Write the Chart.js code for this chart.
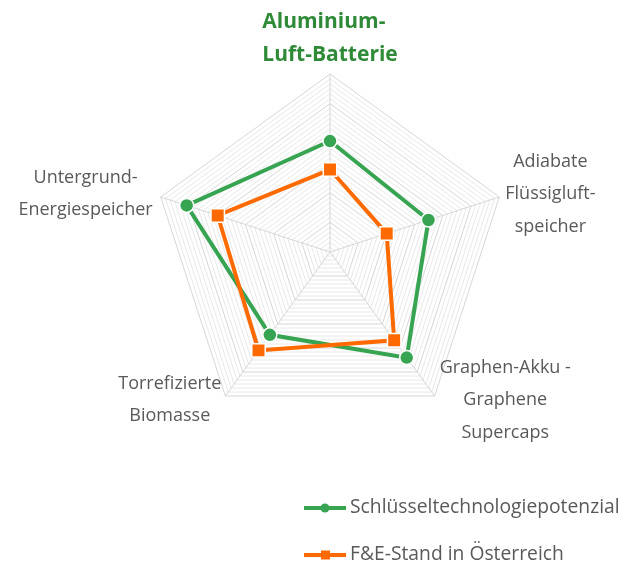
<!DOCTYPE html>
<html><head><meta charset="utf-8">
<script src="https://cdn.jsdelivr.net/npm/chart.js@4/dist/chart.umd.min.js"></script>
<style>html,body{margin:0;padding:0;background:#fff}#wrap{width:622px;height:564px}</style>
</head><body><div id="wrap"><canvas id="c" width="622" height="564"></canvas></div>
<script>
const categories = [
  ["Aluminium-", "Luft-Batterie"],
  ["Adiabate", "Flüssigluft-", "speicher"],
  ["Graphen-Akku -", "Graphene", "Supercaps"],
  ["Torrefizierte", "Biomasse"],
  ["Untergrund-", "Energiespeicher"]
];
const seriesNames = ["Schlüsseltechnologiepotenzial", "F&E-Stand in Österreich"];
const potenzial = [3.74, 3.49, 4.40, 3.45, 5.08];
const feStand = [2.78, 2.01, 3.68, 4.10, 3.98];
const scaleMax = 6;
const minorPerMajor = 6;

const GREEN = '#37a452', ORANGE = '#ff6a00', TEXT = '#595959', TITLE = '#2f8a38';
const FONT = '"Open Sans", sans-serif';

const labelPlugin = {
  id: 'labels',
  afterDraw(chart) {
    const r = chart.scales.r, ctx = chart.ctx;
    ctx.save();
    ctx.textBaseline = 'middle';
    categories.forEach((lines, i) => {
      const v = r.getPointPosition(i, r.drawingArea);
      const isTop = i === 0;
      ctx.font = (isTop ? 'bold 21px ' : '18px ') + FONT;
      ctx.fillStyle = isTop ? TITLE : TEXT;
      const lh = 32.5;
      const widths = lines.map(l => ctx.measureText(l).width);
      const bw = Math.max(...widths);
      let left, firstY;
      if (isTop) {
        left = v.x - bw / 2;
        firstY = v.y - 19 - lh * (lines.length - 1);
      } else {
        const mid = v.y + [0, -3, 4, 4, -3][i];
        firstY = mid - lh * (lines.length - 1) / 2;
        if (v.x > r.xCenter) left = v.x + [0, 6, 5][i];
        else left = v.x - [0, 0, 0, 4, 8][i] - bw;
      }
      lines.forEach((l, k) => {
        const y = firstY + k * lh;
        if (isTop) { ctx.textAlign = 'left'; ctx.fillText(l, left, y); }
        else { ctx.textAlign = 'center'; ctx.fillText(l, left + bw / 2, y); }
      });
    });
    // legend
    const items = [
      {name: seriesNames[0], color: GREEN, style: 'circle', y: 508},
      {name: seriesNames[1], color: ORANGE, style: 'rect', y: 555}
    ];
    items.forEach(it => {
      ctx.strokeStyle = it.color; ctx.lineWidth = 4; ctx.lineCap = 'butt';
      ctx.beginPath(); ctx.moveTo(304, it.y); ctx.lineTo(346, it.y); ctx.stroke();
      ctx.fillStyle = it.color;
      if (it.style === 'circle') { ctx.beginPath(); ctx.arc(325, it.y, 4.5, 0, Math.PI * 2); ctx.fill(); }
      else { ctx.fillRect(321, it.y - 4.5, 9, 9); }
      ctx.fillStyle = TEXT; ctx.font = '19.3px ' + FONT; ctx.textAlign = 'left';
      ctx.fillText(it.name, 350, it.y);
    });
    ctx.restore();
  }
};

new Chart(document.getElementById('c'), {
  type: 'radar',
  data: {
    labels: categories,
    datasets: [
      {label: seriesNames[0], data: potenzial, borderColor: GREEN, backgroundColor: GREEN,
       borderWidth: 4, fill: false, pointStyle: 'circle', pointRadius: 7, pointHoverRadius: 7,
       pointBackgroundColor: GREEN, pointBorderColor: '#fff', pointBorderWidth: 1.5, order: 1},
      {label: seriesNames[1], data: feStand, borderColor: ORANGE, backgroundColor: ORANGE,
       borderWidth: 4, fill: false, pointStyle: 'rect', pointRadius: 9.5, pointHoverRadius: 9.5,
       pointBackgroundColor: ORANGE, pointBorderColor: '#fff', pointBorderWidth: 1.5, order: 0}
    ]
  },
  options: {
    responsive: false, animation: false,
    layout: {padding: {left: 152, right: 114, top: 74, bottom: 134}},
    plugins: {legend: {display: false}, tooltip: {enabled: false}},
    elements: {line: {tension: 0}},
    scales: {
      r: {
        min: 0, max: scaleMax,
        afterBuildTicks(scale) {
          const t = [];
          for (let k = 0; k <= scaleMax * minorPerMajor; k++) t.push({value: k / minorPerMajor});
          scale.ticks = t;
        },
        ticks: {display: false},
        pointLabels: {display: false},
        angleLines: {color: '#d6d6d6', lineWidth: 1},
        grid: {
          lineWidth: 1,
          color: (c) => (c.index % minorPerMajor === 0 ? '#d6d6d6' : '#e8e8e8')
        }
      }
    }
  },
  plugins: [labelPlugin]
});
</script></body></html>
